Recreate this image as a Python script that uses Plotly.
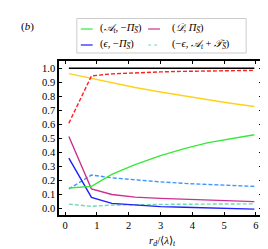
import plotly.graph_objects as go

# ---- data ----
x = [0.12, 0.83, 1.47, 2.2, 3.0, 3.75, 4.5, 5.2, 5.95]
green_At_minusPi = [0.143, 0.155, 0.24, 0.31, 0.375, 0.425, 0.468, 0.497, 0.524]
magenta_D_Pi = [0.512, 0.136, 0.097, 0.078, 0.069, 0.063, 0.055, 0.05, 0.046]
blue_eps_minusPi = [0.357, 0.076, 0.033, 0.02, 0.01, 0.005, 0.0, -0.004, -0.008]
aqua_minuseps_AT = [0.028, 0.012, 0.021, 0.025, 0.026, 0.027, 0.028, 0.029, 0.03]
lightblue_dashed = [0.136, 0.236, 0.216, 0.2, 0.187, 0.176, 0.168, 0.16, 0.155]
red_dashed = [0.607, 0.945, 0.96, 0.968, 0.974, 0.978, 0.981, 0.983, 0.985]
gold_solid = [0.962, 0.929, 0.895, 0.862, 0.83, 0.8, 0.775, 0.75, 0.726]
black_solid = [1.0, 1.0, 1.0, 1.0, 1.0, 1.0, 1.0, 1.0, 1.0]

xticks = [0, 1, 2, 3, 4, 5, 6]
yticks = [0.0, 0.1, 0.2, 0.3, 0.4, 0.5, 0.6, 0.7, 0.8, 0.9, 1.0]

legend_labels = [
    "(<i>𝒜</i><sub><i>t</i></sub>, −<i>Π</i><sub><i>S̅</i></sub>)",
    "(<i>𝒟</i>, <i>Π</i><sub><i>S̅</i></sub>)",
    "(<i>ϵ</i>, −<i>Π</i><sub><i>S̅</i></sub>)",
    "(−<i>ϵ</i>, <i>𝒜</i><sub><i>t</i></sub> + <i>𝒯</i><sub><i>S̅</i></sub>)",
]

W, H = 268, 249
ML, MR, MT, MB = 51, 12, 53, 42
FONT = "Liberation Serif"

GREEN = "#35EA35"
MAGENTA = "#CC2F8F"
BLUE = "#1E1EFF"
AQUA = "#6FD9B4"
LBLUE = "#3D96FF"
RED = "#FF2020"
GOLD = "#FFD21A"

fig = go.Figure()

def add(y, color, dash="solid", width=1.4):
    fig.add_trace(go.Scatter(x=x, y=y, mode="lines",
                             line=dict(color=color, width=width, dash=dash),
                             showlegend=False, hoverinfo="skip"))

add(black_solid, "black")
add(gold_solid, GOLD)
add(red_dashed, RED, "4px,2px")
add(lightblue_dashed, LBLUE, "4px,2px")
add(aqua_minuseps_AT, AQUA, "4px,2px")
add(magenta_D_Pi, MAGENTA)
add(blue_eps_minusPi, BLUE)
add(green_At_minusPi, GREEN)

def px2paper(px, py):
    return (px - ML) / (W - ML - MR), (H - MB - py) / (H - MT - MB)

shapes = []
annotations = []

# legend box
bx0, by0 = px2paper(69, 45)
bx1, by1 = px2paper(240, 10.5)
shapes.append(dict(type="rect", xref="paper", yref="paper", x0=bx0, y0=by0, x1=bx1, y1=by1,
                   line=dict(color="#CCCCCC", width=1), fillcolor="white", layer="above"))

legend_items = [
    (legend_labels[0], GREEN, "solid", 73, 90, 21),
    (legend_labels[1], MAGENTA, "solid", 141, 163, 21),
    (legend_labels[2], BLUE, "solid", 73, 90, 37),
    (legend_labels[3], AQUA, "dot", 141, 163, 37),
]
for text, col, dash, kx, tx, ky in legend_items:
    ax0, ay = px2paper(kx, ky)
    ax1, _ = px2paper(kx + 12, ky)
    shapes.append(dict(type="line", xref="paper", yref="paper", x0=ax0, x1=ax1, y0=ay, y1=ay,
                       line=dict(color=col, width=1.2, dash=dash), layer="above"))
    tpx, tpy = px2paper(tx, ky)
    annotations.append(dict(text=text, xref="paper", yref="paper", x=tpx, y=tpy,
                            xanchor="left", yanchor="middle", showarrow=False,
                            font=dict(family=FONT, size=10.5, color="black")))

# panel label
lx, ly = px2paper(19, 18)
annotations.append(dict(text="(<i>b</i>)", xref="paper", yref="paper", x=lx, y=ly,
                        xanchor="center", yanchor="middle", showarrow=False,
                        font=dict(family=FONT, size=11, color="black")))
# x axis title
tx, ty = px2paper(156, 233)
annotations.append(dict(text="<i>r</i><sub><i>d</i></sub>/⟨<i>λ</i>⟩<sub><i>t</i></sub>",
                        xref="paper", yref="paper", x=tx, y=ty,
                        xanchor="center", yanchor="middle", showarrow=False,
                        font=dict(family=FONT, size=11, color="black")))

axis_common = dict(showline=True, linecolor="black", linewidth=1.5, mirror="ticks",
                   ticks="inside", ticklen=3, tickwidth=1, tickcolor="black",
                   showgrid=False, zeroline=False,
                   tickfont=dict(family=FONT, size=10.5, color="black"))

fig.update_layout(
    width=W, height=H,
    margin=dict(l=ML, r=MR, t=MT, b=MB),
    paper_bgcolor="white", plot_bgcolor="white",
    showlegend=False,
    xaxis=dict(range=[-0.19, 6.19], tickvals=xticks, ticktext=[str(v) for v in xticks], **axis_common),
    yaxis=dict(range=[-0.05, 1.052], tickvals=yticks, ticktext=[f"{v:.1f}" for v in yticks], **axis_common),
    shapes=shapes, annotations=annotations,
)

fig.write_html("out.html")
